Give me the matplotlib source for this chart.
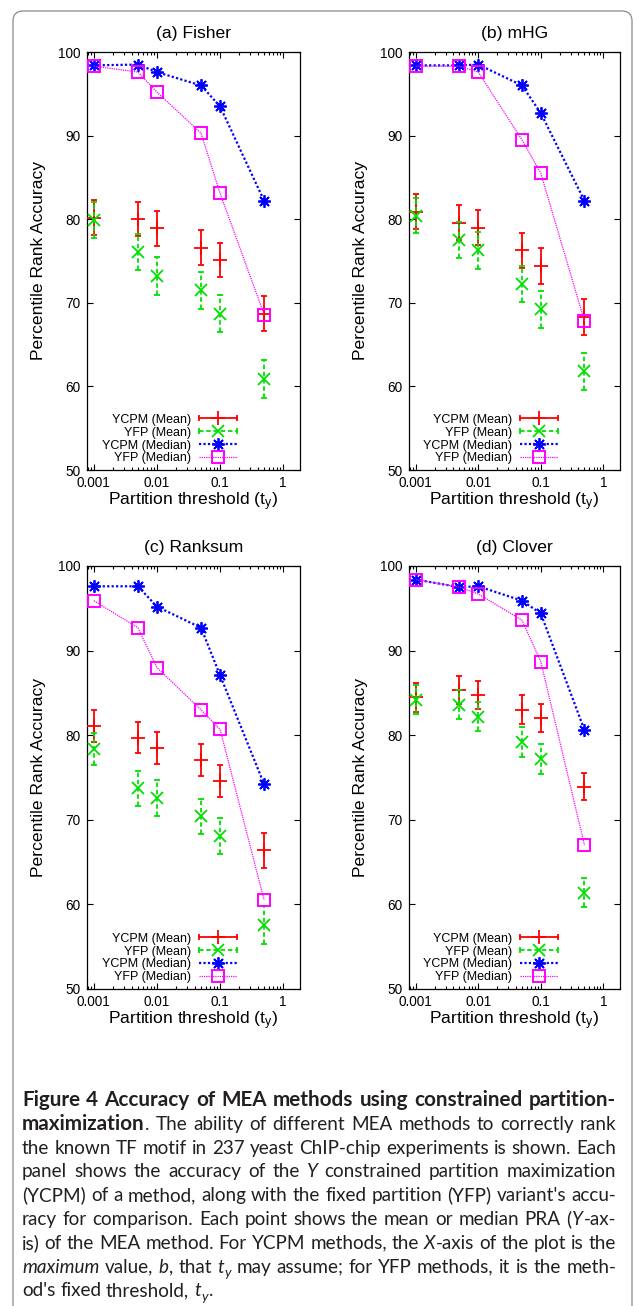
import matplotlib
matplotlib.use("Agg")
import matplotlib.pyplot as plt
import numpy as np
from matplotlib.lines import Line2D
from matplotlib.legend_handler import HandlerLine2D
from matplotlib.patches import FancyBboxPatch
from matplotlib.transforms import IdentityTransform
import matplotlib.ticker as mticker

# ---------------- data ----------------
thresholds = [0.001, 0.005, 0.01, 0.05, 0.1, 0.5]
panel_titles = ["(a) Fisher", "(b) mHG", "(c) Ranksum", "(d) Clover"]
series_labels = ["YCPM (Mean)", "YFP (Mean)", "YCPM (Median)", "YFP (Median)"]
xtick_vals = [0.001, 0.01, 0.1, 1]
xtick_labels = ["0.001", "0.01", "0.1", "1"]
ytick_vals = [50, 60, 70, 80, 90, 100]

fisher_ycpm_mean = [80.2, 80.0, 78.9, 76.6, 75.1, 68.7]
fisher_ycpm_err = [2.1, 2.0, 2.1, 2.1, 2.0, 2.1]
fisher_yfp_mean = [79.9, 76.1, 73.2, 71.5, 68.7, 60.9]
fisher_yfp_err = [2.1, 2.15, 2.25, 2.2, 2.2, 2.3]
fisher_ycpm_median = [98.4, 98.5, 97.6, 96.0, 93.5, 82.2]
fisher_yfp_median = [98.3, 97.6, 95.2, 90.3, 83.1, 68.6]

mhg_ycpm_mean = [80.9, 79.6, 79.0, 76.3, 74.4, 68.3]
mhg_ycpm_err = [2.1, 2.1, 2.1, 2.1, 2.1, 2.15]
mhg_yfp_mean = [80.4, 77.5, 76.3, 72.3, 69.2, 61.8]
mhg_yfp_err = [2.1, 2.15, 2.2, 2.15, 2.2, 2.25]
mhg_ycpm_median = [98.4, 98.4, 98.5, 96.0, 92.7, 82.2]
mhg_yfp_median = [98.3, 98.3, 97.6, 89.5, 85.5, 67.8]

ranksum_ycpm_mean = [81.1, 79.7, 78.5, 77.1, 74.6, 66.4]
ranksum_ycpm_err = [1.85, 1.85, 1.9, 1.9, 1.9, 2.05]
ranksum_yfp_mean = [78.4, 73.7, 72.6, 70.4, 68.1, 57.6]
ranksum_yfp_err = [1.9, 2.1, 2.15, 2.1, 2.1, 2.25]
ranksum_ycpm_median = [97.6, 97.6, 95.2, 92.7, 87.1, 74.2]
ranksum_yfp_median = [95.9, 92.7, 88.0, 83.0, 80.7, 60.5]

clover_ycpm_mean = [84.5, 85.3, 84.8, 83.0, 82.0, 73.9]
clover_ycpm_err = [1.7, 1.65, 1.65, 1.7, 1.65, 1.6]
clover_yfp_mean = [84.2, 83.6, 82.2, 79.2, 77.2, 61.4]
clover_yfp_err = [1.7, 1.7, 1.7, 1.75, 1.75, 1.75]
clover_ycpm_median = [98.4, 97.5, 97.6, 95.9, 94.4, 80.6]
clover_yfp_median = [98.4, 97.5, 96.7, 93.6, 88.7, 67.0]

panels = [
    (fisher_ycpm_mean, fisher_ycpm_err, fisher_yfp_mean, fisher_yfp_err, fisher_ycpm_median, fisher_yfp_median),
    (mhg_ycpm_mean, mhg_ycpm_err, mhg_yfp_mean, mhg_yfp_err, mhg_ycpm_median, mhg_yfp_median),
    (ranksum_ycpm_mean, ranksum_ycpm_err, ranksum_yfp_mean, ranksum_yfp_err, ranksum_ycpm_median, ranksum_yfp_median),
    (clover_ycpm_mean, clover_ycpm_err, clover_yfp_mean, clover_yfp_err, clover_ycpm_median, clover_yfp_median),
]

caption_lines = [
    [("Figure 4 Accuracy of MEA methods using constrained partition-", "b")],
    [("maximization", "b"), (". The ability of different MEA methods to correctly rank", "n")],
    [("the known TF motif in 237 yeast ChIP-chip experiments is shown. Each", "n")],
    [("panel shows the accuracy of the ", "n"), ("Y", "i"), (" constrained partition maximization", "n")],
    [("(YCPM) of a method, along with the fixed partition (YFP) variant's accu-", "n")],
    [("racy for comparison. Each point shows the mean or median PRA (", "n"), ("Y", "i"), ("-ax-", "n")],
    [("is) of the MEA method. For YCPM methods, the ", "n"), ("X", "i"), ("-axis of the plot is the", "n")],
    [("maximum", "i"), (" value, ", "n"), ("b", "i"), (", that ", "n"), ("t", "i"), ("y", "s"),
     (" may assume; for YFP methods, it is the meth-", "n")],
    [("od's fixed threshold, ", "n"), ("t", "i"), ("y", "s"), (".", "n")],
]

# ---------------- style ----------------
W, H = 634, 1306
RED, GREEN, BLUE, MAG = "#ff0000", "#00e000", "#0000ff", "#ff00ff"
plt.rcParams["font.family"] = ["Liberation Sans", "DejaVu Sans"]
plt.rcParams["mathtext.fontset"] = "custom"
plt.rcParams["mathtext.rm"] = "Liberation Sans"
plt.rcParams["mathtext.it"] = "Liberation Sans"

fig = plt.figure(figsize=(W / 100, H / 100), dpi=100)

# panel boxes in pixels: left, top, right, bottom
boxes = [(87, 52, 300, 470), (409, 52, 620, 470), (87, 566, 300, 989), (409, 566, 620, 989)]


class CapHandler(HandlerLine2D):
    def create_artists(self, legend, orig_handle, xdescent, ydescent, width, height, fontsize, trans):
        arts = super().create_artists(legend, orig_handle, xdescent, ydescent, width, height, fontsize, trans)
        y = (height - ydescent) / 2
        caps = Line2D([-xdescent, -xdescent + width], [y, y], ls="none", marker="|", ms=4.5,
                      mew=orig_handle.get_linewidth(), color=orig_handle.get_color())
        caps.set_transform(trans)
        return list(arts) + [caps]


for (l, t, r, b), title, data in zip(boxes, panel_titles, panels):
    ycpm_mean, ycpm_err, yfp_mean, yfp_err, ycpm_med, yfp_med = data
    ax = fig.add_axes([l / W, 1 - b / H, (r - l) / W, (b - t) / H])
    ax.set_xscale("log")
    ax.set_xlim(0.00078, 1.85)
    ax.set_ylim(50, 100)

    ax.errorbar(thresholds, ycpm_mean, yerr=ycpm_err, fmt="+", color=RED, ms=9.5, mew=1.3,
                elinewidth=1.3, capsize=2.3, capthick=1.3, zorder=3)
    e2 = ax.errorbar(thresholds, yfp_mean, yerr=yfp_err, fmt="x", color=GREEN, ms=8.5, mew=1.3,
                     elinewidth=1.3, capsize=2.3, capthick=1.3, zorder=4)
    for coll in e2[2]:
        coll.set_linestyle((0, (2.5, 1.5)))
    ax.plot(thresholds, ycpm_med, color=BLUE, ls=(0, (1, 1.0)), lw=1.6, marker=(8, 2, 0), ms=9,
            mew=1.3, zorder=5)
    ax.plot(thresholds, yfp_med, color=MAG, ls=(0, (1, 0.8)), lw=0.9, marker="s", ms=9,
            mfc="none", mew=1.4, zorder=6)

    ax.xaxis.set_major_locator(mticker.FixedLocator(xtick_vals))
    ax.xaxis.set_major_formatter(mticker.FixedFormatter(xtick_labels))
    ax.xaxis.set_minor_locator(mticker.LogLocator(base=10, subs=np.arange(2, 10), numticks=20))
    ax.xaxis.set_minor_formatter(mticker.NullFormatter())
    ax.set_yticks(ytick_vals)
    ax.set_yticklabels([str(v) for v in ytick_vals])
    ax.tick_params(which="both", direction="in", top=True, right=True, labelsize=9.8, width=0.8)
    ax.tick_params(which="major", length=4.3)
    ax.tick_params(which="minor", length=2.3)
    ax.tick_params(axis="y", pad=5)
    ax.tick_params(axis="x", pad=4.5)
    for sp in ax.spines.values():
        sp.set_linewidth(0.9)

    ax.set_xlabel("Partition threshold (t$_{\\mathregular{y}}$)", fontsize=12.6, va="center")
    ax.xaxis.set_label_coords(0.5, -0.075)
    ax.set_ylabel("Percentile Rank Accuracy", fontsize=12.6, va="center")
    ax.yaxis.set_label_coords(-0.23, 0.5)
    ax.text(0.5, 1.044, title, transform=ax.transAxes, ha="center", va="center", fontsize=12.6)

    h1 = Line2D([], [], color=RED, ls="-", lw=1.3, marker="+", ms=9.5, mew=1.3)
    h2 = Line2D([], [], color=GREEN, ls=(0, (2.5, 1.5)), lw=1.3, marker="x", ms=8.5, mew=1.3)
    h3 = Line2D([], [], color=BLUE, ls=(0, (1, 1.0)), lw=1.6, marker=(8, 2, 0), ms=9, mew=1.3)
    h4 = Line2D([], [], color=MAG, ls=(0, (1, 0.8)), lw=0.9, marker="s", ms=9, mfc="none", mew=1.4)
    ax.legend([h1, h2, h3, h4], series_labels, loc="lower right", bbox_to_anchor=(0.704, 0.0134),
              markerfirst=False, frameon=False, fontsize=9.0, handlelength=3.0, handletextpad=0.64,
              labelspacing=0.07, borderpad=0, borderaxespad=0, numpoints=1,
              handler_map={h1: CapHandler(), h2: CapHandler()})

# ---------------- frame around figure ----------------
frame = FancyBboxPatch((13, -30), 632 - 13, (H - 11) + 30, boxstyle="round,pad=0,rounding_size=10",
                       transform=IdentityTransform(), fill=False, edgecolor="#8a8a8a", linewidth=0.9)
fig.add_artist(frame)

# ---------------- caption ----------------
CAPFONT = ["Lato", "DejaVu Sans"]
renderer = fig.canvas.get_renderer()
BOLD_SCALE = [1.0]


def fprops(style, size):
    d = dict(family=CAPFONT, size=size)
    if style == "b":
        d["weight"] = "bold"
        d["size"] = size * BOLD_SCALE[0]
    elif style == "i":
        d["style"] = "italic"
    elif style == "s":
        d["style"] = "italic"
        d["size"] = size * 0.72
    return d


def measure(s, style, size):
    tt = fig.text(0, 0, s, **fprops(style, size))
    w = tt.get_window_extent(renderer).width
    tt.remove()
    return w


def to_words(line):
    words = [[]]
    for text, st in line:
        parts = text.split(" ")
        for k, p in enumerate(parts):
            if k > 0:
                words.append([])
            if p:
                words[-1].append((p, st))
    return [w for w in words if w]


cap_left, cap_right = 22, 616
target = cap_right - cap_left
base_size = 10.0
PIECE_GAP = 0.6


def natural_width(words, size):
    sp = measure("a a", "n", size) - measure("aa", "n", size)
    tot = 0
    for w in words:
        tot += sum(measure(p, st, size) for p, st in w) + PIECE_GAP * (len(w) - 1)
    return tot + sp * (len(words) - 1)


all_words = [to_words(ln) for ln in caption_lines]
# size from the regular justified lines
ratios = [target / natural_width(w, base_size) for w in all_words[2:-1]]
cap_size = base_size * float(np.median(ratios)) * 0.99
# bold line: scale bold so that it fits with about normal spacing
bold_ratio = target / natural_width(all_words[0], base_size)
BOLD_SCALE[0] = min(1.12, base_size * bold_ratio * 0.99 / cap_size)
px = cap_size * 100 / 72

line0_base = 1106
line_step = 23.8
for i, words in enumerate(all_words):
    y = line0_base + i * line_step
    widths = [[measure(p, st, cap_size) for p, st in w] for w in words]
    wsum = sum(sum(ws) + PIECE_GAP * (len(ws) - 1) for ws in widths)
    if i < len(all_words) - 1:
        gap = (target - wsum) / (len(words) - 1)
    else:
        gap = measure("a a", "n", cap_size) - measure("aa", "n", cap_size)
    x = cap_left
    for w, ws in zip(words, widths):
        for (p, st), pw in zip(w, ws):
            yy = y + (0.22 * px if st == "s" else 0)
            fig.text(x / W, 1 - yy / H, p, ha="left", va="baseline", color="#231f20", **fprops(st, cap_size))
            x += pw + PIECE_GAP
        x += gap - PIECE_GAP

fig.savefig("out.png", dpi=100)
